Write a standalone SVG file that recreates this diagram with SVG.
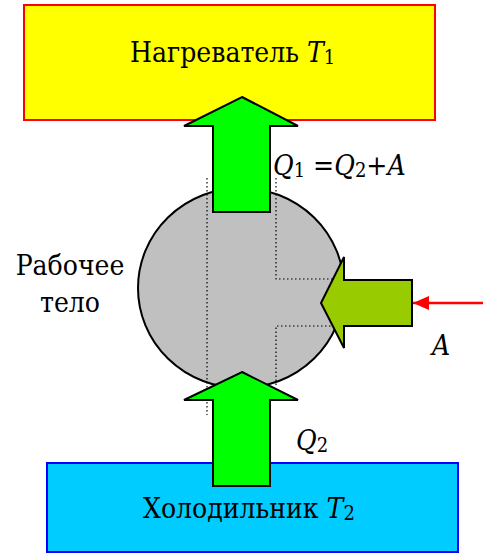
<svg xmlns="http://www.w3.org/2000/svg" width="485" height="554" viewBox="0 0 485 554">
<style>
.t{font-family:'DejaVu Serif Condensed','DejaVu Serif',serif;font-stretch:condensed;font-size:28px;fill:#000}
.i{font-style:italic}
.s{font-size:20px;font-style:normal}
.dot{fill:none;stroke:#000;stroke-width:1.2;stroke-dasharray:1.5,2.5}
.big{stroke:#000;stroke-width:2;stroke-linejoin:miter}
</style>
<defs>
<marker id="ah" markerWidth="16" markerHeight="14" refX="16" refY="7" orient="auto" markerUnits="userSpaceOnUse">
<path d="M0,0 L16,7 L0,14 Z" fill="#FF0000"/>
</marker>
</defs>
<g id="heater">
<rect x="24" y="5" width="411" height="115" fill="#FFFF00" stroke="#FF0000" stroke-width="2"/>
<text class="t" x="130" y="62">Нагреватель <tspan class="i">T</tspan><tspan class="s" dy="2">1</tspan></text>
</g>
<g id="cooler">
<rect x="47" y="463" width="411" height="89" fill="#00CCFF" stroke="#0000FF" stroke-width="2"/>
<text class="t" x="143" y="518" font-size="29">Холодильник <tspan class="i">T</tspan><tspan class="s" dy="2">2</tspan></text>
</g>
<g id="body">
<ellipse cx="241" cy="288" rx="103" ry="100" fill="#C0C0C0" stroke="#000" stroke-width="2"/>
<path class="dot" d="M207,178 V415 M276,178 V279 H334 M276,385 V326 H334"/>
<text class="t" x="70" y="275" text-anchor="middle">Рабочее</text>
<text class="t" x="70" y="312" text-anchor="middle">тело</text>
</g>
<g id="connectors">
<path id="q1-arrow" class="big" fill="#00FF00" d="M242,97 L298,126 L270,126 L270,212 L213,212 L213,126 L184,126 Z"/>
<path id="q2-arrow" class="big" fill="#00FF00" d="M242,372 L298,400 L270,400 L270,486 L213,486 L213,400 L184,400 Z"/>
<path id="a-arrow" class="big" fill="#99CC00" d="M321,303 L344,257 L344,280 L412,280 L412,326 L344,326 L344,348 Z"/>
<line x1="483" y1="303" x2="413" y2="303" stroke="#FF0000" stroke-width="2.5" marker-end="url(#ah)"/>
</g>
<g id="labels">
<text class="t" x="273" y="175"><tspan class="i">Q</tspan><tspan class="s" dy="2">1</tspan><tspan dy="-2"> =</tspan><tspan class="i">Q</tspan><tspan class="s" dy="2">2</tspan><tspan dy="-2">+</tspan><tspan class="i">A</tspan></text>
<text class="t" x="296" y="450"><tspan class="i">Q</tspan><tspan class="s" dy="2">2</tspan></text>
<text class="t i" x="432" y="355">A</text>
</g>
</svg>
